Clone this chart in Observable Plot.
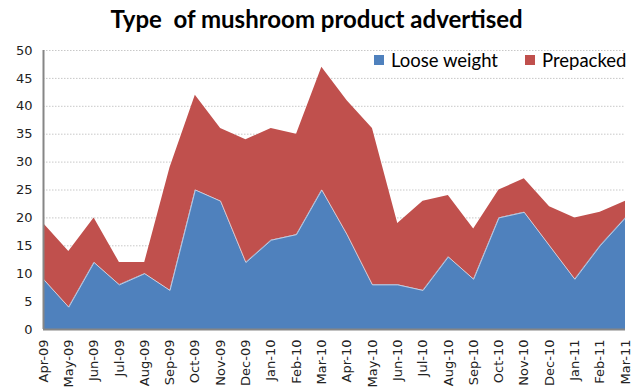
<!DOCTYPE html>
<html><head><meta charset="utf-8">
<script src="https://cdn.jsdelivr.net/npm/d3@7"></script>
<script src="https://cdn.jsdelivr.net/npm/@observablehq/plot@0.6"></script>
<style>
body{margin:0;background:#fff;}
#wrap{position:relative;width:643px;height:389px;}
#title{height:38px;line-height:38px;text-align:center;padding-right:10px;font-family:Lato,"Open Sans",sans-serif;font-weight:bold;font-size:24px;color:#000;white-space:pre;}
#legend{position:absolute;top:49px;left:374px;font-family:Lato,"Open Sans",sans-serif;font-size:18.5px;color:#000;display:flex;align-items:center;}
#legend .sw{display:inline-block;width:10px;height:10px;margin-right:7px;}
#legend .it{display:flex;align-items:center;margin-right:27px;}
</style></head>
<body><div id="wrap"><div id="title">Type  of mushroom product advertised</div><div id="chart"></div>
<div id="legend"><span class="it"><span class="sw" style="background:#4F81BD"></span>Loose weight</span><span class="it" style="margin-right:0"><span class="sw" style="background:#C0504D"></span>Prepacked</span></div></div>
<script>
const months = ["Apr-09","May-09","Jun-09","Jul-09","Aug-09","Sep-09","Oct-09","Nov-09","Dec-09","Jan-10","Feb-10","Mar-10","Apr-10","May-10","Jun-10","Jul-10","Aug-10","Sep-10","Oct-10","Nov-10","Dec-10","Jan-11","Feb-11","Mar-11"];
const looseWeight = [9,4,12,8,10,7,25,23,12,16,17,25,17,8,8,7,13,9,20,21,15,9,15,20];
const prepacked = [10,10,8,4,2,22,17,13,22,20,18,22,24,28,11,16,11,9,5,6,7,11,6,3];
const series = ["Loose weight","Prepacked"];
const colors = ["#4F81BD","#C0504D"];
const yTicks = [0,5,10,15,20,25,30,35,40,45,50];

const data = [];
months.forEach((m,i)=>data.push({i, month:m, series:series[0], value:looseWeight[i]}));
months.forEach((m,i)=>data.push({i, month:m, series:series[1], value:prepacked[i]}));

const chart = Plot.plot({
  width:643, height:351,
  marginTop:12, marginBottom:60, marginLeft:43, marginRight:18,
  style:{fontFamily:"DejaVu Sans, Verdana, sans-serif", fontSize:"13px", color:"#222"},
  x:{domain:[0,months.length-1], ticks:d3.range(months.length), tickFormat:i=>months[i], tickRotate:-90, tickSize:0, tickPadding:10, label:null},
  y:{domain:[0,50], ticks:yTicks, tickSize:0, tickPadding:11, label:null},
  color:{domain:series, range:colors},
  marks:[
    Plot.ruleY(yTicks.filter(d=>d>0), {stroke:"#c8c8c8", strokeDasharray:"1.5,1.5", strokeWidth:1}),
    Plot.areaY(data, {x:"i", y:"value", fill:"series", order:null}),
    Plot.lineY(looseWeight.map((v,i)=>({i,v})), {x:"i", y:"v", stroke:"#d9e0ec", strokeWidth:0.8}),
    Plot.ruleX([0], {stroke:"#868686", strokeWidth:2}),
    Plot.ruleY([0], {stroke:"#868686", strokeWidth:2})
  ]
});
document.getElementById("chart").appendChild(chart);
</script></body></html>
